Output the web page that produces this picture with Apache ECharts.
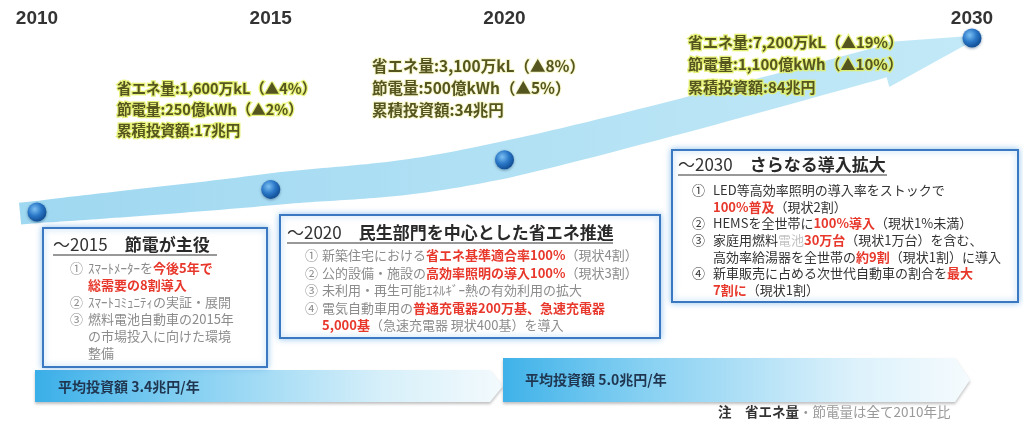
<!DOCTYPE html>
<html><head><meta charset="utf-8">
<script src="https://cdn.jsdelivr.net/npm/echarts@6/dist/echarts.min.js"></script>
<style>html,body{margin:0;padding:0;background:#fff}#c{width:1023px;height:423px}</style>
</head><body><div id="c"></div>
<script>
// ---- data ----
const years = [2010, 2015, 2020, 2030];
const level = [0, 13, 30, 100];            // height of each milestone on the roadmap
const yearTicks = [2010, 2015, 2020, 2030];
const energySaving = [0, 1600, 3100, 7200]; // 万kL
const energyPct = [0, 4, 8, 19];            // ▲%
const powerSaving = [0, 250, 500, 1100];    // 億kWh
const powerPct = [0, 2, 5, 10];             // ▲%
const cumInvest = [0, 17, 34, 84];          // 兆円
const avgInvest = [3.4, 5.0];               // 兆円/年

const JP = '"Noto Sans CJK JP", "Noto Sans", sans-serif';
const fmt = n => String(n).replace(/\B(?=(\d{3})+(?!\d))/g, ',');
const statText = i => '省エネ量:' + fmt(energySaving[i]) + '万kL（▲' + energyPct[i] + '%）\n' +
  '節電量:' + fmt(powerSaving[i]) + '億kWh（▲' + powerPct[i] + '%）\n' +
  '累積投資額:' + cumInvest[i] + '兆円';

const chart = echarts.init(document.getElementById('c'), null, {renderer: 'canvas'});

function statEl(i, x, y, lh, fs, glow, lw) {
  return {type: 'text', x: x, y: y, z: 20, style: {
    text: statText(i), fontFamily: JP, fontWeight: 'bold', fontSize: fs, lineHeight: lh,
    fill: '#55551f', stroke: glow, lineWidth: lw, shadowBlur: 5, shadowColor: glow,
    verticalAlign: 'top', align: 'left'}};
}
function box(x, y, w, h) {
  return {type: 'rect', z: 5, shape: {x: x, y: y, width: w, height: h},
    style: {fill: '#ffffff', stroke: '#3b78c2', lineWidth: 2, shadowBlur: 6, shadowColor: 'rgba(90,165,230,0.6)'}};
}
function title(x, y, a, b, ulLen) {
  return [{type: 'text', x: x, y: y, z: 10, style: {
      text: '{a|' + a + '}{b|　' + b + '}', verticalAlign: 'middle', align: 'left',
      rich: {a: {fontFamily: JP, fontSize: 17, fill: '#333'}, b: {fontFamily: JP, fontSize: 17, fontWeight: 'bold', fill: '#2a2a2a'}}}},
    {type: 'line', z: 10, shape: {x1: x, y1: y + 10, x2: x + ulLen, y2: y + 10}, style: {stroke: '#333', lineWidth: 1}}];
}
function body(x, y, lh, fs, color, text) {
  const base = {fontFamily: JP, fontSize: fs, lineHeight: lh};
  return {type: 'text', x: x, y: y, z: 10, style: Object.assign({}, base, {
    text: text, fill: color, verticalAlign: 'top', align: 'left',
    rich: {
      g: Object.assign({}, base, {fill: color}),
      r: Object.assign({}, base, {fill: '#e8382c', fontWeight: 'bold'}),
      b: Object.assign({}, base, {fill: '#c4c4c4'})
    }})};
}
function nums(x, y, lh, fs, color, text) {
  return {type: 'text', x: x, y: y, z: 10, style: {text: text, fontFamily: JP, fontSize: fs, lineHeight: lh, fill: color, verticalAlign: 'top', align: 'left'}};
}

const gray = '#8c8c8c';
const graphics = [
  statEl(1, 117, 78, 21, 14.5, 'rgba(226,238,95,0.85)', 2.5),
  statEl(2, 372, 55, 22, 15.5, 'rgba(246,246,200,0.95)', 2),
  statEl(3, 688, 31, 22.5, 15, 'rgba(226,238,95,0.85)', 2.5),
  // box A
  box(43, 228, 224, 139),
  ...title(53, 245, '～' + 2015, '節電が主役', 164),
  nums(70, 259.5, 17, 13, gray, '①\n\n②\n③\n\n'),
  body(88, 259.5, 17, 13, gray,
    'ｽﾏｰﾄﾒｰﾀｰを{r|今後5年で}\n{r|総需要の8割導入}\nｽﾏｰﾄｺﾐｭﾆﾃｨの実証・展開\n燃料電池自動車の2015年\nの市場投入に向けた環境\n整備'),
  // box B
  box(280, 215, 380, 123),
  ...title(287, 233, '～' + 2020, '民生部門を中心とした省エネ推進', 326),
  nums(305, 246.5, 17.5, 13, gray, '①\n②\n③\n④\n'),
  body(322, 246.5, 17.5, 13, gray,
    '新築住宅における{r|省エネ基準適合率100%}（現状4割）\n公的設備・施設の{r|高効率照明の導入100%}（現状3割）\n未利用・再生可能ｴﾈﾙｷﾞｰ熱の有効利用の拡大\n電気自動車用の{r|普通充電器200万基、急速充電器}\n{r|5,000基}（急速充電器 現状400基）を導入'),
  // box C
  box(672, 150, 346, 152),
  ...title(678, 165, '～' + 2030, 'さらなる導入拡大', 209),
  nums(692, 181.7, 16.67, 13, '#333', '①\n\n②\n③\n\n④\n'),
  body(713, 181.7, 16.67, 13, '#333',
    'LED等高効率照明の導入率をストックで\n{r|100%普及}（現状2割）\nHEMSを全世帯に{r|100%導入}（現状1%未満）\n家庭用燃料{b|電池}{r|30万台}（現状1万台）を含む、\n高効率給湯器を全世帯の{r|約9割}（現状1割）に導入\n新車販売に占める次世代自動車の割合を{r|最大}\n{r|7割に}（現状1割）'),
  // bottom bars
  {type: 'polygon', z: 3, shape: {points: [[35, 370], [490, 370], [503, 386], [490, 402], [35, 402]]},
    style: {fill: new echarts.graphic.LinearGradient(0, 0, 1, 0, [
      {offset: 0, color: '#3aafe8'}, {offset: 0.3, color: '#7fcdf1'}, {offset: 0.75, color: '#d8f0fa'}, {offset: 1, color: '#f3fafd'}]),
      shadowBlur: 3, shadowOffsetY: 2, shadowColor: 'rgba(0,0,0,0.25)'}},
  {type: 'polygon', z: 3, shape: {points: [[503, 358], [955, 358], [970, 380], [955, 402], [503, 402]]},
    style: {fill: new echarts.graphic.LinearGradient(0, 0, 1, 0, [
      {offset: 0, color: '#3fb2e9'}, {offset: 0.3, color: '#86d0f2'}, {offset: 0.75, color: '#dcf1fb'}, {offset: 1, color: '#f5fbfe'}]),
      shadowBlur: 3, shadowOffsetY: 2, shadowColor: 'rgba(0,0,0,0.25)'}},
  {type: 'text', x: 58, y: 387, z: 10, style: {text: '平均投資額 ' + avgInvest[0].toFixed(1) + '兆円/年', fontFamily: JP, fontWeight: 'bold', fontSize: 14, fill: '#1f3550', verticalAlign: 'middle'}},
  {type: 'text', x: 525, y: 380, z: 10, style: {text: '平均投資額 ' + avgInvest[1].toFixed(1) + '兆円/年', fontFamily: JP, fontWeight: 'bold', fontSize: 14, fill: '#1f3550', verticalAlign: 'middle'}},
  {type: 'text', x: 718, y: 412, z: 10, style: {text: '{d|注　省エネ量}{g|・節電量は全て' + years[0] + '年比}', verticalAlign: 'middle',
    rich: {d: {fontFamily: JP, fontWeight: 'bold', fontSize: 13.5, fill: '#333'}, g: {fontFamily: JP, fontSize: 13.5, fill: '#999'}}}}
];

function renderBand(params, api) {
  const P = years.map((y, i) => api.coord([y, level[i]]));
  const n = P.length;
  const hwP = [11, 16, 18.5, 15];
  const S = [];
  for (let i = 0; i < n - 1; i++) {
    const p0 = P[Math.max(i - 1, 0)], p1 = P[i], p2 = P[i + 1], p3 = P[Math.min(i + 2, n - 1)];
    const steps = 40;
    for (let k = (i === 0 ? 0 : 1); k <= steps; k++) {
      const t = k / steps, t2 = t * t, t3 = t2 * t;
      const f = (a, b, c, d) => 0.5 * (2 * b + (-a + c) * t + (2 * a - 5 * b + 4 * c - d) * t2 + (-a + 3 * b - 3 * c + d) * t3);
      S.push({x: f(p0[0], p1[0], p2[0], p3[0]), y: f(p0[1], p1[1], p2[1], p3[1]), hw: hwP[i] + (hwP[i + 1] - hwP[i]) * t});
    }
  }
  let s = 0; S[0].s = 0;
  for (let i = 1; i < S.length; i++) { s += Math.hypot(S[i].x - S[i - 1].x, S[i].y - S[i - 1].y); S[i].s = s; }
  const L = s, ah = 100, ext = 12, sBase = L + ext - ah;
  const tan = i => {
    const a = S[Math.max(i - 1, 0)], b = S[Math.min(i + 1, S.length - 1)];
    const dx = b.x - a.x, dy = b.y - a.y, l = Math.hypot(dx, dy) || 1;
    return [dx / l, dy / l];
  };
  const top = [], bot = [];
  const t0 = tan(0);
  top.push([S[0].x - t0[0] * 17 + t0[1] * S[0].hw, S[0].y - t0[1] * 17 - t0[0] * S[0].hw]);
  bot.push([S[0].x - t0[0] * 17 - t0[1] * S[0].hw, S[0].y - t0[1] * 17 + t0[0] * S[0].hw]);
  let last = 0;
  for (let i = 0; i < S.length; i++) {
    if (S[i].s > sBase) break;
    const t = tan(i), nx = -t[1], ny = t[0];
    top.push([S[i].x - nx * S[i].hw, S[i].y - ny * S[i].hw]);
    bot.push([S[i].x + nx * S[i].hw, S[i].y + ny * S[i].hw]);
    last = i;
  }
  const B = S[last], tb = tan(last), nbx = -tb[1], nby = tb[0];
  const te = tan(S.length - 1), E = S[S.length - 1];
  const tip = [E.x + te[0] * ext, E.y + te[1] * ext];
  const up = [B.x - nbx * (B.hw + 4), B.y - nby * (B.hw + 4)];
  const lo = [B.x + nbx * (B.hw + 10), B.y + nby * (B.hw + 10)];
  const pts = top.concat([up, tip, lo], bot.reverse());
  return {type: 'polygon', shape: {points: pts}, style: {
    fill: new echarts.graphic.LinearGradient(0, 0, 1, 0, [{offset: 0, color: '#9fd8f1'}, {offset: 1, color: '#c3e9f7'}])}};
}

chart.setOption({
  backgroundColor: '#ffffff',
  animation: false,
  grid: {left: 37, right: 51, top: 38, bottom: 211, containLabel: false},
  xAxis: {type: 'value', position: 'top', min: 2010, max: 2030, interval: 5,
    axisLine: {show: false}, axisTick: {show: false}, splitLine: {show: false},
    axisLabel: {margin: 10, fontSize: 19, fontWeight: 'bold', color: '#333', fontFamily: '"Liberation Sans", Arial, sans-serif',
      formatter: v => yearTicks.indexOf(v) >= 0 ? String(v) : ''}},
  yAxis: {type: 'value', min: 0, max: 100, show: false},
  series: [
    {type: 'custom', clip: false, z: 1, silent: true, data: [[years[0], level[0]]], renderItem: renderBand},
    {type: 'scatter', z: 4, symbolSize: 19, data: years.map((y, i) => [y, level[i]]),
      itemStyle: {color: {type: 'radial', x: 0.38, y: 0.35, r: 0.65, colorStops: [
        {offset: 0, color: '#7cc0f2'}, {offset: 0.55, color: '#2b78c8'}, {offset: 1, color: '#124f96'}]},
        shadowBlur: 3, shadowColor: 'rgba(0,40,90,0.45)', shadowOffsetY: 1, opacity: 1}}
  ],
  graphic: graphics
});
</script></body></html>
